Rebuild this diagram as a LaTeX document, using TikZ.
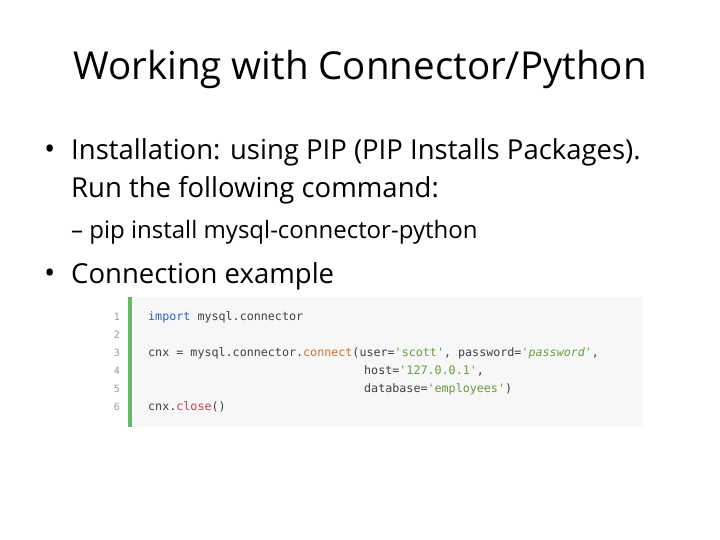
\documentclass[tikz,border=0pt]{standalone}
\usepackage{fontspec}
\setmainfont{Open Sans}
\newfontfamily\codefont{DejaVu Sans Mono}
\definecolor{kw}{HTML}{3060C0}
\definecolor{fn}{HTML}{D07030}
\definecolor{st}{HTML}{6A9A40}
\definecolor{cl}{HTML}{C04050}
\definecolor{ln}{HTML}{999999}
\begin{document}
\begin{tikzpicture}[x=1pt,y=-1pt,
  every node/.style={inner sep=0pt,anchor=base west},
  code/.style={font=\codefont\fontsize{11.7}{13}\selectfont,text=black!75},
  lnum/.style={font=\codefont\fontsize{10}{12}\selectfont,text=ln,anchor=base east}]
\useasboundingbox (0,0) rectangle (720,540);
\node[anchor=base] (title) at (360,80) {\fontsize{38.5}{46}\selectfont Working with Connector/Python};
\node (b1) at (44,160) {\fontsize{30}{32}\selectfont •};
\node (t1) at (71,160) {\fontsize{27.5}{32}\selectfont Installation: using PIP (PIP Installs Packages).};
\node (t1b) at (71,197) {\fontsize{27.5}{32}\selectfont Run the following command:};
\node (t2) at (71,239) {\fontsize{24}{28}\selectfont – pip install mysql-connector-python};
\node (b2) at (44,283) {\fontsize{30}{32}\selectfont •};
\node (t3) at (71,283) {\fontsize{27.5}{32}\selectfont Connection example};
\fill[black!3] (128,297) rectangle (643,427);
\fill[green!55!black!60] (128,297) rectangle (132,427);
\foreach \i/\y in {1/320,2/338,3/356,4/374,5/392,6/410}
  \node[lnum] (n\i) at (120,\y) {\i};
\node[code] (c1) at (148,320) {\textcolor{kw}{import} mysql.connector};
\node[code] (c3) at (148,356) {cnx = mysql.connector.\textcolor{fn}{connect}(user=\textcolor{st}{'scott'}, password=\textcolor{st}{\textit{'password'}},};
\node[code] (c4) at (364,374) {host=\textcolor{st}{'127.0.0.1'},};
\node[code] (c5) at (364,392) {database=\textcolor{st}{'employees'})};
\node[code] (c6) at (148,410) {cnx.\textcolor{cl}{close}()};
\end{tikzpicture}
\end{document}
